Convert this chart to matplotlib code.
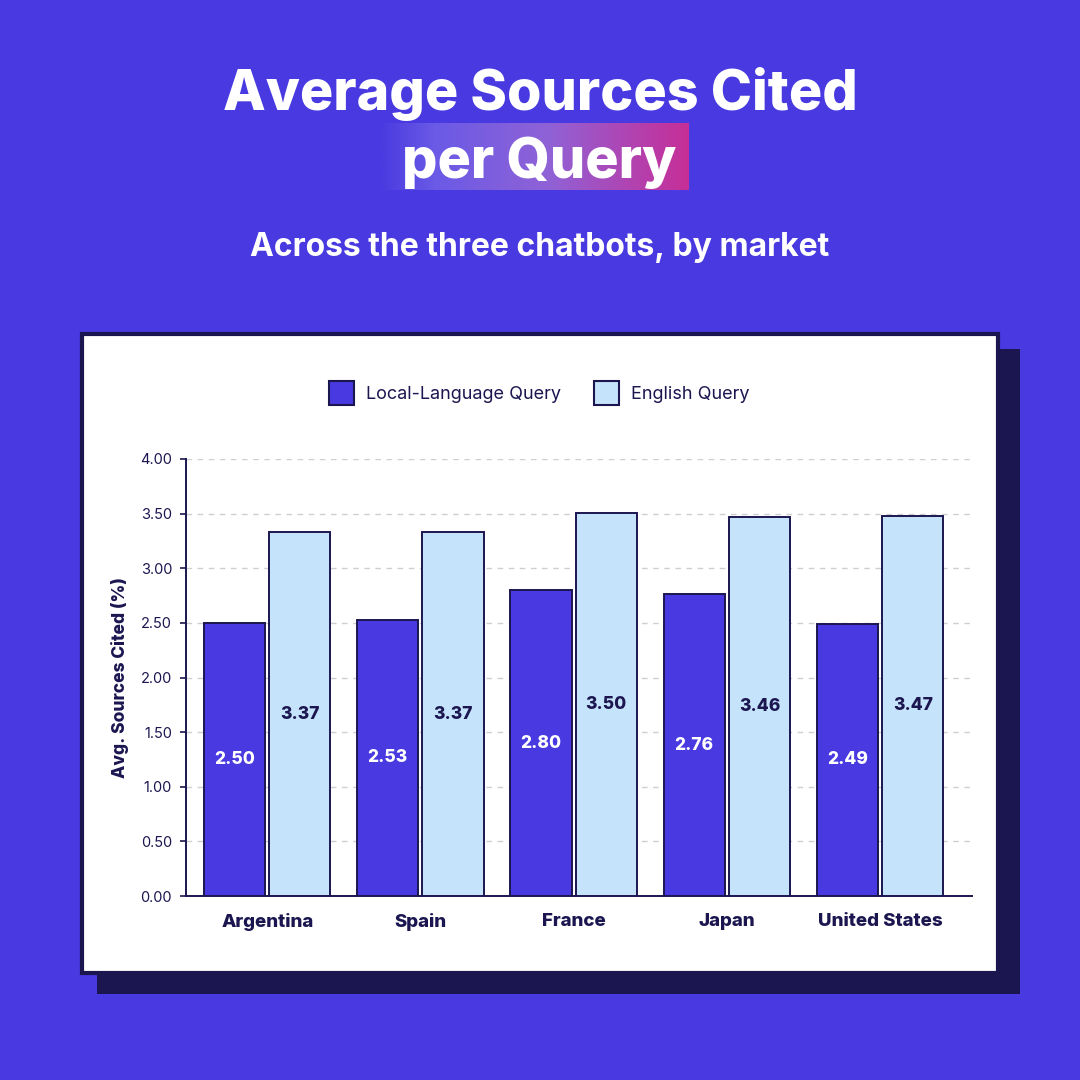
import numpy as np
import matplotlib
matplotlib.use('Agg')
import matplotlib.pyplot as plt
from matplotlib.patches import Rectangle, Patch
from matplotlib.colors import LinearSegmentedColormap

plt.rcParams['font.family'] = ['Inter', 'DejaVu Sans']

# data
markets = ['Argentina', 'Spain', 'France', 'Japan', 'United States']
local_vals = [2.50, 2.53, 2.80, 2.76, 2.49]
english_vals = [3.33, 3.33, 3.51, 3.47, 3.48]
local_labels = ['2.50', '2.53', '2.80', '2.76', '2.49']
english_labels = ['3.37', '3.37', '3.50', '3.46', '3.47']
yticks = [0, 0.5, 1.0, 1.5, 2.0, 2.5, 3.0, 3.5, 4.0]

BG = '#4839E0'
NAVY = '#1B1650'
LIGHT = '#C5E3FA'

W = 1080
def fx(px): return px / W
def fy(py): return 1 - py / W

fig = plt.figure(figsize=(10.8, 10.8), dpi=100, facecolor=BG)

# card shadow + card (behind the axes)
fig.add_artist(Rectangle((fx(97), fy(994)), fx(1020) - fx(97), (994 - 349) / W,
                         transform=fig.transFigure, facecolor=NAVY, edgecolor='none', zorder=-3))
fig.add_artist(Rectangle((fx(82), fy(973)), (998 - 82) / W, (973 - 334) / W,
                         transform=fig.transFigure, facecolor='white', edgecolor=NAVY,
                         lw=3, zorder=-2))

# gradient highlight behind "per Query"
gax = fig.add_axes([fx(378), fy(190), (689 - 378) / W, (190 - 123) / W])
cmap = LinearSegmentedColormap.from_list('hl', [(0, BG), (0.18, '#6A5AE6'), (0.55, '#9062D6'), (1, '#C72E97')])
gax.imshow(np.linspace(0, 1, 256)[None, :], cmap=cmap, aspect='auto', extent=(0, 1, 0, 1))
gax.axis('off')

fig.text(0.5, fy(110), 'Average Sources Cited', color='white', fontsize=40, fontweight='heavy',
         ha='center', va='baseline')
fig.text(fx(539), fy(178), 'per Query', color='white', fontsize=40, fontweight='heavy',
         ha='center', va='baseline', zorder=5)
fig.text(0.5, fy(256), 'Across the three chatbots, by market', color='white', fontsize=23,
         fontweight='bold', ha='center', va='baseline')

# main axes
ax = fig.add_axes([fx(186), fy(896), (972 - 186) / W, (896 - 459) / W])
ax.set_facecolor('none')
x = np.arange(len(markets))
bw = 0.40
off = 0.213
ax.bar(x - off, local_vals, bw, color=BG, edgecolor=NAVY, lw=1.4, zorder=3)
ax.bar(x + off, english_vals, bw, color=LIGHT, edgecolor=NAVY, lw=1.4, zorder=3)

for i in range(len(markets)):
    ax.text(x[i] - off, local_vals[i] / 2, local_labels[i], color='white', fontsize=12.5,
            fontweight='heavy', ha='center', va='center', zorder=4)
    ax.text(x[i] + off, english_vals[i] / 2, english_labels[i], color=NAVY, fontsize=12.5,
            fontweight='heavy', ha='center', va='center', zorder=4)

ax.set_xlim(-0.53, 4.6)
ax.set_ylim(0, 4)
ax.set_yticks(yticks)
ax.set_yticklabels([f'{v:.2f}' for v in yticks])
ax.set_xticks(x)
ax.set_xticklabels(markets, fontweight='heavy', fontsize=13.5)
ax.tick_params(axis='x', length=0, pad=12, colors=NAVY)
ax.tick_params(axis='y', length=4, width=1.2, pad=6, colors=NAVY, labelsize=10.5)
for s in ['top', 'right']:
    ax.spines[s].set_visible(False)
for s in ['left', 'bottom']:
    ax.spines[s].set_color(NAVY)
    ax.spines[s].set_linewidth(1.4)
ax.yaxis.grid(True, color='#CFCFCF', lw=1, linestyle=(0, (4, 4)), zorder=0)
ax.set_axisbelow(True)
ax.set_ylabel('Avg. Sources Cited (%)', color=NAVY, fontsize=12.5, fontweight='heavy', labelpad=8)

handles = [Patch(facecolor=BG, edgecolor=NAVY, lw=1.5, label='Local-Language Query'),
           Patch(facecolor=LIGHT, edgecolor=NAVY, lw=1.5, label='English Query')]
fig.legend(handles=handles, loc='center', bbox_to_anchor=(fx(539), fy(393)), ncol=2,
           frameon=False, fontsize=13, handlelength=1.4, handleheight=1.6,
           handletextpad=0.65, columnspacing=1.8, labelcolor=NAVY)

fig.savefig('out.png', dpi=100, facecolor=BG)
